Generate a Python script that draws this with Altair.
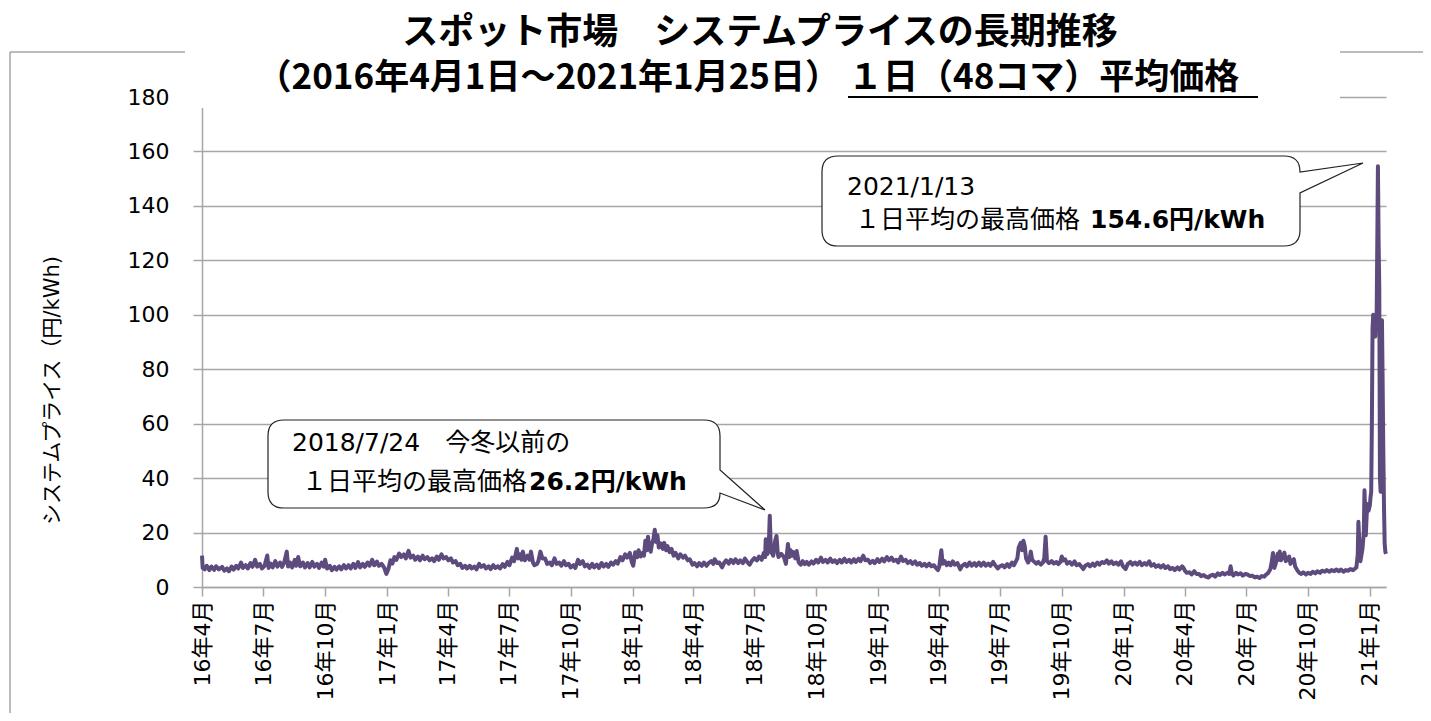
import altair as alt
import pandas as pd

# ---------------- data (~2 readings per week) ----------------
D_FY16 = ["2016-04-01","2016-04-02","2016-04-05","2016-04-08","2016-04-12","2016-04-15","2016-04-19","2016-04-22",
          "2016-04-26","2016-05-01","2016-05-04","2016-05-08","2016-05-11","2016-05-15","2016-05-18","2016-05-22",
          "2016-05-25","2016-05-29","2016-06-01","2016-06-05","2016-06-08","2016-06-12","2016-06-15","2016-06-19",
          "2016-06-22","2016-06-26","2016-06-29","2016-07-03","2016-07-07","2016-07-09","2016-07-12","2016-07-15",
          "2016-07-19","2016-07-22","2016-07-26","2016-07-29","2016-08-01","2016-08-05","2016-08-07","2016-08-10",
          "2016-08-13","2016-08-17","2016-08-19","2016-08-22","2016-08-25","2016-08-29","2016-09-01","2016-09-05",
          "2016-09-08","2016-09-12","2016-09-15","2016-09-19","2016-09-22","2016-09-26","2016-09-29","2016-10-01",
          "2016-10-04","2016-10-08","2016-10-11","2016-10-15","2016-10-18","2016-10-22","2016-10-25","2016-10-29",
          "2016-11-01","2016-11-05","2016-11-08","2016-11-12","2016-11-15","2016-11-19","2016-11-22","2016-11-26",
          "2016-11-29","2016-12-03","2016-12-06","2016-12-10","2016-12-13","2016-12-17","2016-12-20","2016-12-24",
          "2016-12-28","2016-12-31","2017-01-03","2017-01-06","2017-01-09","2017-01-12","2017-01-15","2017-01-19",
          "2017-01-22","2017-01-26","2017-01-29","2017-02-02","2017-02-05","2017-02-09","2017-02-12","2017-02-16",
          "2017-02-19","2017-02-23","2017-02-26","2017-03-02","2017-03-05","2017-03-09","2017-03-12","2017-03-16",
          "2017-03-19","2017-03-23","2017-03-26","2017-03-30"]
P_FY16 = [11.5,7.0,6.5,7.8,6.2,7.5,6.3,7.6,
          6.5,7.4,6.0,6.8,5.8,7.5,6.4,7.8,
          6.8,9.0,7.0,8.0,6.8,8.8,7.4,10.0,
          7.5,8.5,6.8,7.8,11.6,7.0,8.6,7.2,
          9.5,7.5,9.0,7.4,8.8,13.0,7.5,9.0,
          7.2,10.0,7.8,11.0,7.6,9.0,7.2,8.8,
          7.2,9.2,7.5,8.5,7.0,9.0,7.5,10.0,
          6.8,7.8,6.2,7.4,6.4,7.6,6.5,8.0,
          6.8,8.0,6.8,8.5,7.0,9.2,7.2,8.5,
          7.4,9.0,7.8,10.0,8.0,9.3,7.8,8.5,
          7.0,4.8,6.5,9.8,8.6,11.0,10.0,12.3,
          11.0,12.0,10.5,13.3,10.8,11.5,10.0,11.2,
          9.8,11.5,10.2,11.0,9.8,10.5,9.5,11.2,
          10.0,12.0,10.5,11.0]

D_FY17 = ["2017-04-02","2017-04-06","2017-04-09","2017-04-13","2017-04-16","2017-04-20","2017-04-23","2017-04-27",
          "2017-04-30","2017-05-04","2017-05-07","2017-05-11","2017-05-14","2017-05-18","2017-05-21","2017-05-25",
          "2017-05-28","2017-06-01","2017-06-04","2017-06-08","2017-06-11","2017-06-15","2017-06-18","2017-06-22",
          "2017-06-25","2017-06-29","2017-07-02","2017-07-06","2017-07-09","2017-07-13","2017-07-15","2017-07-18",
          "2017-07-20","2017-07-22","2017-07-25","2017-07-29","2017-08-01","2017-08-03","2017-08-06","2017-08-08",
          "2017-08-12","2017-08-14","2017-08-17","2017-08-20","2017-08-24","2017-08-27","2017-08-31","2017-09-03",
          "2017-09-07","2017-09-10","2017-09-14","2017-09-17","2017-09-21","2017-09-24","2017-09-28","2017-10-01",
          "2017-10-05","2017-10-08","2017-10-12","2017-10-15","2017-10-19","2017-10-22","2017-10-26","2017-10-29",
          "2017-11-02","2017-11-05","2017-11-09","2017-11-12","2017-11-16","2017-11-19","2017-11-23","2017-11-26",
          "2017-11-30","2017-12-03","2017-12-07","2017-12-10","2017-12-14","2017-12-17","2017-12-21","2017-12-24",
          "2017-12-28","2017-12-31","2018-01-02","2018-01-05","2018-01-08","2018-01-10","2018-01-13","2018-01-16",
          "2018-01-18","2018-01-20","2018-01-22","2018-01-24","2018-01-26","2018-01-28","2018-01-30","2018-02-01",
          "2018-02-03","2018-02-05","2018-02-07","2018-02-09","2018-02-12","2018-02-15","2018-02-17","2018-02-20",
          "2018-02-22","2018-02-25","2018-02-28","2018-03-03","2018-03-06","2018-03-10","2018-03-13","2018-03-17",
          "2018-03-20","2018-03-24","2018-03-27","2018-03-31"]
P_FY17 = [9.8,10.5,9.0,9.5,8.0,8.5,7.0,7.8,
          6.8,7.8,6.8,7.5,6.5,8.5,7.4,8.0,
          6.8,7.6,6.6,8.0,7.0,7.6,6.8,8.4,
          7.4,9.2,8.0,10.8,9.5,14.0,10.5,12.0,
          10.0,13.0,9.8,11.5,10.0,13.0,9.0,8.0,
          8.5,9.5,13.0,10.5,10.5,8.5,9.0,8.0,
          10.5,8.5,9.0,7.8,9.5,8.0,8.5,7.2,
          8.0,7.0,10.0,8.5,9.5,7.6,8.2,7.0,
          8.5,7.2,8.2,7.0,8.8,7.5,8.5,7.4,
          9.0,8.2,9.5,8.6,11.0,9.8,12.0,10.8,
          12.5,9.0,7.8,12.8,11.0,13.5,11.2,12.5,
          11.5,17.0,13.5,18.5,14.0,13.0,16.0,17.5,
          21.0,16.5,19.0,14.5,16.0,14.0,16.2,13.5,
          15.0,12.8,14.0,11.5,12.5,10.5,12.0,10.8,
          11.5,9.8,10.2,8.2]

D_FY18 = ["2018-04-03","2018-04-07","2018-04-10","2018-04-14","2018-04-17","2018-04-21","2018-04-24","2018-04-28",
          "2018-05-01","2018-05-03","2018-05-07","2018-05-10","2018-05-14","2018-05-17","2018-05-20","2018-05-24",
          "2018-05-27","2018-05-31","2018-06-03","2018-06-07","2018-06-10","2018-06-14","2018-06-17","2018-06-21",
          "2018-06-24","2018-06-28","2018-07-01","2018-07-05","2018-07-08","2018-07-12","2018-07-15","2018-07-17",
          "2018-07-18","2018-07-20","2018-07-22","2018-07-23","2018-07-24","2018-07-25","2018-07-26","2018-07-29",
          "2018-07-31","2018-08-01","2018-08-03","2018-08-05","2018-08-06","2018-08-10","2018-08-14","2018-08-17",
          "2018-08-20","2018-08-22","2018-08-24","2018-08-26","2018-08-28","2018-08-31","2018-09-02","2018-09-05",
          "2018-09-08","2018-09-11","2018-09-14","2018-09-17","2018-09-20","2018-09-24","2018-09-27","2018-10-01",
          "2018-10-04","2018-10-08","2018-10-11","2018-10-15","2018-10-18","2018-10-22","2018-10-25","2018-10-29",
          "2018-11-01","2018-11-05","2018-11-08","2018-11-12","2018-11-15","2018-11-19","2018-11-22","2018-11-26",
          "2018-11-29","2018-12-03","2018-12-06","2018-12-10","2018-12-13","2018-12-17","2018-12-20","2018-12-24",
          "2018-12-27","2018-12-31","2019-01-03","2019-01-07","2019-01-10","2019-01-14","2019-01-17","2019-01-21",
          "2019-01-24","2019-01-28","2019-01-31","2019-02-04","2019-02-07","2019-02-11","2019-02-14","2019-02-18",
          "2019-02-21","2019-02-25","2019-02-28","2019-03-04","2019-03-07","2019-03-11","2019-03-14","2019-03-18",
          "2019-03-21","2019-03-25","2019-03-28","2019-03-31"]
P_FY18 = [8.8,7.6,8.8,7.8,9.0,7.8,8.8,9.5,
          8.5,10.2,8.8,9.0,7.2,8.8,9.8,8.6,
          10.0,8.8,10.2,8.8,9.8,8.8,10.4,9.0,
          8.2,9.8,10.6,9.8,11.2,10.0,12.5,11.0,
          17.5,12.0,13.0,19.0,26.2,18.0,13.0,11.5,
          15.0,17.0,18.8,12.0,11.0,12.2,11.0,8.5,
          15.8,11.0,13.5,11.5,12.8,10.5,13.2,9.0,
          8.2,9.5,8.4,9.2,8.2,9.4,8.6,10.0,
          9.0,10.8,9.2,10.0,9.0,10.4,9.2,9.8,
          8.8,10.0,9.0,10.4,9.2,10.0,9.0,10.2,
          9.2,10.4,9.5,11.5,9.8,10.0,8.8,9.6,
          8.8,10.2,9.2,10.4,9.4,11.0,9.8,10.8,
          9.6,10.0,9.0,11.2,9.6,10.0,8.8,9.5,
          8.5,9.4,8.2,8.8,7.8,8.5,7.6,8.6,
          7.6,8.0,7.0,6.2]

D_FY19 = ["2019-04-02","2019-04-05","2019-04-07","2019-04-10","2019-04-13","2019-04-16","2019-04-19","2019-04-22",
          "2019-04-25","2019-04-29","2019-05-03","2019-05-06","2019-05-10","2019-05-13","2019-05-17","2019-05-20",
          "2019-05-24","2019-05-27","2019-05-31","2019-06-03","2019-06-07","2019-06-10","2019-06-14","2019-06-17",
          "2019-06-21","2019-06-24","2019-06-28","2019-07-01","2019-07-05","2019-07-08","2019-07-12","2019-07-15",
          "2019-07-19","2019-07-22","2019-07-25","2019-07-27","2019-07-29","2019-08-01","2019-08-03","2019-08-05",
          "2019-08-07","2019-08-09","2019-08-12","2019-08-14","2019-08-16","2019-08-18","2019-08-20","2019-08-24",
          "2019-08-27","2019-08-31","2019-09-03","2019-09-05","2019-09-07","2019-09-09","2019-09-12","2019-09-16",
          "2019-09-19","2019-09-23","2019-09-26","2019-09-29","2019-10-01","2019-10-03","2019-10-06","2019-10-09",
          "2019-10-13","2019-10-16","2019-10-20","2019-10-23","2019-10-27","2019-10-30","2019-11-02","2019-11-05",
          "2019-11-09","2019-11-12","2019-11-16","2019-11-19","2019-11-23","2019-11-26","2019-11-30","2019-12-03",
          "2019-12-07","2019-12-10","2019-12-14","2019-12-17","2019-12-21","2019-12-24","2019-12-28","2019-12-31",
          "2020-01-04","2020-01-07","2020-01-11","2020-01-14","2020-01-18","2020-01-21","2020-01-25","2020-01-28",
          "2020-02-01","2020-02-04","2020-02-08","2020-02-11","2020-02-15","2020-02-18","2020-02-22","2020-02-25",
          "2020-02-29","2020-03-03","2020-03-07","2020-03-10","2020-03-14","2020-03-17","2020-03-21","2020-03-24",
          "2020-03-28","2020-03-31"]
P_FY19 = [7.5,13.5,8.5,9.5,8.0,9.0,8.0,9.4,
          8.2,8.8,6.5,7.8,8.5,7.6,9.0,7.8,
          8.8,7.8,9.0,7.8,9.0,7.8,8.6,7.8,
          9.2,8.0,6.8,7.6,8.0,7.2,8.4,7.4,
          9.0,8.0,9.5,10.5,14.5,16.2,13.5,17.0,
          15.0,10.5,9.0,10.0,13.0,10.0,9.5,8.6,
          9.2,8.2,9.0,10.5,18.5,9.5,8.8,9.5,
          8.6,9.2,8.4,9.2,11.2,9.8,10.2,8.6,
          9.2,8.2,9.4,8.0,8.4,7.5,6.6,7.8,
          8.4,7.6,8.6,7.8,9.0,8.2,9.2,8.8,
          9.8,8.6,9.4,8.4,9.0,8.2,9.4,7.6,
          6.6,8.4,9.2,8.2,9.0,8.2,9.2,8.0,
          8.8,8.2,9.4,7.8,8.4,7.4,8.0,7.2,
          8.0,7.0,7.6,6.6,7.0,6.2,7.2,6.4,
          7.6,6.6]

D_FY20 = ["2020-04-01","2020-04-04","2020-04-08","2020-04-11","2020-04-15","2020-04-18","2020-04-22","2020-04-25",
          "2020-04-29","2020-05-02","2020-05-06","2020-05-09","2020-05-13","2020-05-16","2020-05-20","2020-05-23",
          "2020-05-27","2020-05-30","2020-06-03","2020-06-06","2020-06-08","2020-06-10","2020-06-12","2020-06-16",
          "2020-06-19","2020-06-23","2020-06-26","2020-06-30","2020-07-03","2020-07-07","2020-07-10","2020-07-14",
          "2020-07-17","2020-07-21","2020-07-24","2020-07-28","2020-07-31","2020-08-03","2020-08-06","2020-08-08",
          "2020-08-10","2020-08-12","2020-08-14","2020-08-17","2020-08-19","2020-08-20","2020-08-22","2020-08-24",
          "2020-08-27","2020-08-29","2020-08-31","2020-09-03","2020-09-05","2020-09-08","2020-09-10","2020-09-12",
          "2020-09-15","2020-09-18","2020-09-21","2020-09-24","2020-09-28","2020-10-01","2020-10-05","2020-10-08",
          "2020-10-12","2020-10-15","2020-10-19","2020-10-22","2020-10-26","2020-10-29","2020-11-02","2020-11-05",
          "2020-11-09","2020-11-12","2020-11-16","2020-11-19","2020-11-23","2020-11-26","2020-11-30","2020-12-03",
          "2020-12-07","2020-12-10","2020-12-12","2020-12-14","2020-12-15","2020-12-17","2020-12-18","2020-12-21",
          "2020-12-23","2020-12-24","2020-12-26","2020-12-28","2020-12-30"]
P_FY20 = [6.0,5.2,5.4,4.6,5.8,4.8,4.8,4.0,
          4.4,3.8,3.5,4.2,4.5,3.8,5.0,4.4,
          5.2,4.6,5.2,4.8,7.6,5.0,4.2,5.2,
          4.6,5.0,4.2,4.8,4.6,4.0,4.2,3.5,
          3.8,3.3,4.0,3.8,4.6,5.2,6.5,9.0,
          12.5,7.0,8.5,12.2,10.0,13.0,9.8,11.0,
          12.6,9.5,10.0,11.2,8.5,9.8,10.2,7.5,
          6.2,5.2,4.8,5.4,4.6,5.2,4.8,5.6,
          5.0,5.8,5.2,6.0,5.6,6.2,5.6,6.2,
          5.8,6.4,5.8,6.4,5.6,6.2,6.0,6.6,
          6.2,6.8,7.2,12.0,24.0,12.0,9.5,14.0,
          20.0,35.5,19.0,30.5,28.0]

D_JAN21 = ["2021-01-01","2021-01-02","2021-01-03","2021-01-04","2021-01-05","2021-01-06","2021-01-07","2021-01-08",
           "2021-01-09","2021-01-10","2021-01-11","2021-01-12","2021-01-13","2021-01-14","2021-01-15","2021-01-16",
           "2021-01-17","2021-01-18","2021-01-19","2021-01-20","2021-01-21","2021-01-22","2021-01-23","2021-01-24",
           "2021-01-25"]
P_JAN21 = [30.0,33.0,35.0,60.0,95.0,100.0,93.0,99.0,
           92.0,100.0,97.0,125.0,154.6,127.0,110.0,40.0,
           35.0,97.0,98.0,75.0,50.0,30.0,16.0,13.0,
           12.2]

TICK_MONTHS = [(2016,4),(2016,7),(2016,10),(2017,1),(2017,4),(2017,7),(2017,10),(2018,1),(2018,4),(2018,7),
               (2018,10),(2019,1),(2019,4),(2019,7),(2019,10),(2020,1),(2020,4),(2020,7),(2020,10),(2021,1)]
Y_TICKS = [0, 20, 40, 60, 80, 100, 120, 140, 160, 180]

TITLE1 = "スポット市場　システムプライスの長期推移"
TITLE2A = "（2016年4月1日～2021年1月25日）"
TITLE2B = "１日（48コマ）平均価格"
Y_TITLE = "システムプライス（円/kWh)"
NOTE1 = ["2018/7/24　今冬以前の", "１日平均の最高価格", "26.2円/kWh"]
NOTE2 = ["2021/1/13", "１日平均の最高価格", "154.6円/kWh"]

# ---------------- build ----------------
dates = D_FY16 + D_FY17 + D_FY18 + D_FY19 + D_FY20 + D_JAN21
prices = P_FY16 + P_FY17 + P_FY18 + P_FY19 + P_FY20 + P_JAN21
df = pd.DataFrame({"date": pd.to_datetime(dates), "price": prices})

FONT = "DejaVu Sans, Noto Sans CJK JP"
JP = "Noto Sans CJK JP"
GRID = "#a6a6a6"
LINE = "#5d4b7d"

OX, OY = 202, 97          # page position of the plot origin
W, H = 1184, 490


def px(v):
    return v - OX


def py(v):
    return v - OY


one = alt.Data(values=[{"k": 0}])

line = alt.Chart(df).mark_line(color=LINE, strokeWidth=4, strokeJoin="round").encode(
    x=alt.X("date:T",
            scale=alt.Scale(domain=[alt.DateTime(year=2016, month=4, date=1),
                                    alt.DateTime(year=2021, month=1, date=25)]),
            axis=alt.Axis(values=[alt.DateTime(year=y, month=m, date=1) for y, m in TICK_MONTHS],
                          format="%y年%-m月", labelAngle=270, labelAlign="right", labelBaseline="middle",
                          labelFont=FONT, labelFontSize=22, labelColor="#000", labelPadding=4,
                          labelOverlap=False, labelFlush=False, tickSize=9, tickColor=GRID, tickWidth=1.5,
                          domainColor=GRID, domainWidth=1.5, grid=False, title=None)),
    y=alt.Y("price:Q",
            scale=alt.Scale(domain=[0, 180], nice=False),
            axis=alt.Axis(values=Y_TICKS, labelFont=FONT, labelFontSize=22, labelColor="#000",
                          labelPadding=24, tickSize=9, tickColor=GRID, tickWidth=1.5,
                          domainColor=GRID, domainWidth=1.5, gridColor=GRID, gridWidth=1.5,
                          title=Y_TITLE, titleFont=FONT, titleFontSize=21, titleFontWeight="normal",
                          titleColor="#000", titleAngle=270, titleX=-150, titleY=293,
                          titleAlign="center", titleBaseline="middle")),
)

cover = alt.Chart(one).mark_rect(fill="white").encode(
    x=alt.value(px(188)), x2=alt.value(px(1340)), y=alt.value(py(84)), y2=alt.value(py(108)))

frame_l = alt.Chart(one).mark_rule(color=GRID, strokeWidth=1.5).encode(
    x=alt.value(px(10)), y=alt.value(py(52)), y2=alt.value(py(721)))
frame_t1 = alt.Chart(one).mark_rule(color=GRID, strokeWidth=1.5).encode(
    x=alt.value(px(10)), x2=alt.value(px(185)), y=alt.value(py(52)))
frame_t2 = alt.Chart(one).mark_rule(color=GRID, strokeWidth=1.5).encode(
    x=alt.value(px(1340)), x2=alt.value(px(1431)), y=alt.value(py(52)))


def txt(s, x, y, size, weight="normal", align="left", font=FONT):
    return alt.Chart(one).mark_text(text=s, font=font, fontSize=size, fontWeight=weight, align=align,
                                    baseline="middle", color="#000").encode(
        x=alt.value(px(x)), y=alt.value(py(y)))


title1 = txt(TITLE1, 760, 33, 36, "bold", "center", JP)
title2a = txt(TITLE2A, 840, 78, 35, "bold", "right", JP)
title2b = txt(TITLE2B, 848, 78, 35, "bold", "left", JP)
underline = alt.Chart(one).mark_rule(color="#000", strokeWidth=2).encode(
    x=alt.value(px(848)), x2=alt.value(px(1258)), y=alt.value(py(97)))

CALLOUT1 = ("M16,0 L436,0 Q452,0 452,16 L452,50 L497,90 L452,73 Q452,88 436,88 "
            "L16,88 Q0,88 0,72 L0,16 Q0,0 16,0 Z")
CALLOUT2 = ("M16,0 L462,0 Q478,0 478,16 L541,7 L478,37 L478,74 Q478,90 462,90 "
            "L16,90 Q0,90 0,74 L0,16 Q0,0 16,0 Z")


def callout(path, x, y):
    return alt.Chart(one).mark_point(shape=path, size=4, filled=True, fill="white", stroke="#222",
                                     strokeWidth=1.2, opacity=1).encode(
        x=alt.value(px(x)), y=alt.value(py(y)))


c1 = callout(CALLOUT1, 268, 420)
c2 = callout(CALLOUT2, 822, 156)

n1a = txt(NOTE1[0], 292, 443, 25)
n1b = txt(NOTE1[1], 527, 482, 25, align="right")
n1c = txt(NOTE1[2], 529, 482, 25, "bold")
n2a = txt(NOTE2[0], 847, 187, 25)
n2b = txt(NOTE2[1], 1080, 220, 25, align="right")
n2c = txt(NOTE2[2], 1090, 220, 25, "bold")

chart = alt.layer(
    line, cover, frame_l, frame_t1, frame_t2, title1, title2a, title2b, underline,
    c1, c2, n1a, n1b, n1c, n2a, n2b, n2c
).properties(
    width=W, height=H,
    autosize=alt.AutoSizeParams(type="none"),
    padding={"left": 194, "top": 89, "right": 37, "bottom": 126},
    background="white",
).configure_view(strokeWidth=0)

chart.save("out.html", embed_options={"renderer": "svg", "actions": False})
